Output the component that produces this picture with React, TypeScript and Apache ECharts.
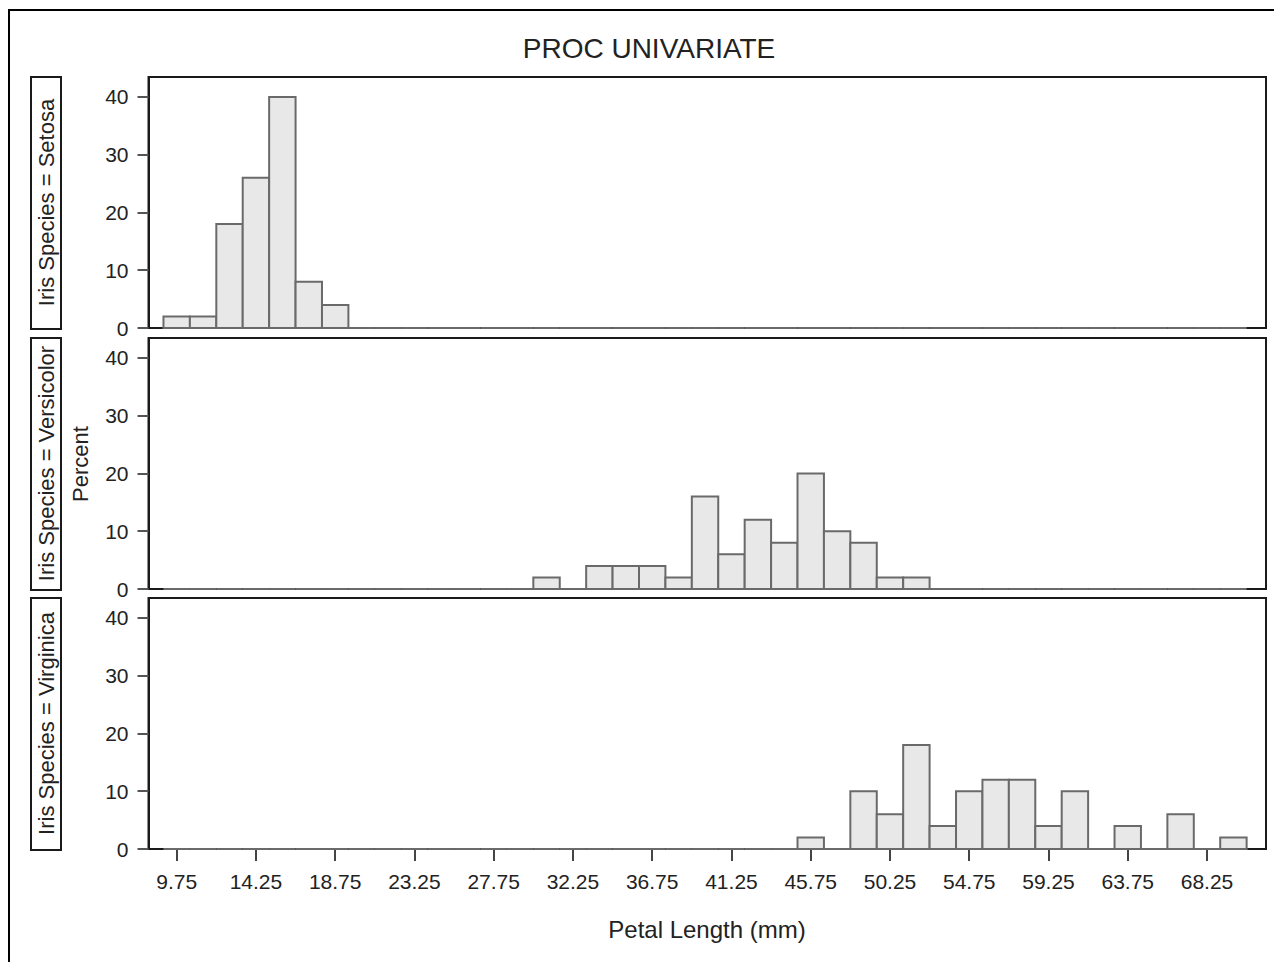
import React, { useEffect, useRef } from "react";
import * as echarts from "echarts";

const binMidpoints = [
  9.75, 11.25, 12.75, 14.25, 15.75, 17.25, 18.75, 20.25, 21.75, 23.25,
  24.75, 26.25, 27.75, 29.25, 30.75, 32.25, 33.75, 35.25, 36.75, 38.25,
  39.75, 41.25, 42.75, 44.25, 45.75, 47.25, 48.75, 50.25, 51.75, 53.25,
  54.75, 56.25, 57.75, 59.25, 60.75, 62.25, 63.75, 65.25, 66.75, 68.25,
  69.75,
];
const BIN_WIDTH = 1.5;

const setosaPct = [
  2, 2, 18, 26, 40, 8, 4, 0, 0, 0,
  0, 0, 0, 0, 0, 0, 0, 0, 0, 0,
  0, 0, 0, 0, 0, 0, 0, 0, 0, 0,
  0, 0, 0, 0, 0, 0, 0, 0, 0, 0,
  0,
];
const versicolorPct = [
  0, 0, 0, 0, 0, 0, 0, 0, 0, 0,
  0, 0, 0, 0, 2, 0, 4, 4, 4, 2,
  16, 6, 12, 8, 20, 10, 8, 2, 2, 0,
  0, 0, 0, 0, 0, 0, 0, 0, 0, 0,
  0,
];
const virginicaPct = [
  0, 0, 0, 0, 0, 0, 0, 0, 0, 0,
  0, 0, 0, 0, 0, 0, 0, 0, 0, 0,
  0, 0, 0, 0, 2, 0, 10, 6, 18, 4,
  10, 12, 12, 4, 10, 0, 4, 0, 6, 0,
  2,
];

const panelLabels = [
  "Iris Species = Setosa",
  "Iris Species = Versicolor",
  "Iris Species = Virginica",
];
const xTickValues = [9.75, 14.25, 18.75, 23.25, 27.75, 32.25, 36.75, 41.25, 45.75, 50.25, 54.75, 59.25, 63.75, 68.25];
const yTickValues = [0, 10, 20, 30, 40];

const titleText = "PROC UNIVARIATE";
const xAxisTitle = "Petal Length (mm)";
const yAxisTitle = "Percent";

const FONT = '"Liberation Sans", Arial, Helvetica, sans-serif';

export default function App() {
  const ref = useRef<HTMLDivElement>(null);

  useEffect(() => {
    document.body.style.margin = "0";
    if (!ref.current) return;
    const chart = echarts.init(ref.current, null, { renderer: "svg" });

    const seriesData = [setosaPct, versicolorPct, virginicaPct];
    const panelTops = [77, 338, 598];
    const panelH = 251;
    const left = 148.5;
    const width = 1117.5;

    const grids = panelTops.map((t) => ({
      left,
      top: t,
      width,
      height: panelH,
      show: true,
      borderColor: "#1a1a1a",
      borderWidth: 2,
      backgroundColor: "transparent",
    }));

    const xAxes = panelTops.map((_, i) => ({
      type: "value",
      gridIndex: i,
      min: 8.15,
      max: 71.6,
      splitLine: { show: false },
      axisLine: { show: true, onZero: false, lineStyle: { color: "#1a1a1a", width: 2 } },
      axisTick: {
        show: i === 2,
        customValues: xTickValues,
        length: 12,
        lineStyle: { color: "#444", width: 2 },
      },
      axisLabel: {
        show: i === 2,
        customValues: xTickValues,
        formatter: (v: number) => v.toFixed(2),
        fontFamily: FONT,
        fontSize: 21,
        color: "#222",
        margin: 22,
      },
    }));

    const yAxes = panelTops.map((_, i) => ({
      type: "value",
      gridIndex: i,
      min: 0,
      max: 43.46,
      splitLine: { show: false },
      axisLine: { show: true, lineStyle: { color: "#1a1a1a", width: 2 } },
      axisTick: {
        show: true,
        customValues: yTickValues,
        length: 11,
        lineStyle: { color: "#555", width: 2 },
      },
      axisLabel: {
        customValues: yTickValues,
        fontFamily: FONT,
        fontSize: 21,
        color: "#222",
        margin: 20,
      },
    }));

    const series = seriesData.map((vals, i) => ({
      type: "custom",
      xAxisIndex: i,
      yAxisIndex: i,
      data: binMidpoints.map((m, k) => [m, vals[k]]),
      renderItem: (params: any, api: any) => {
        const mid = api.value(0);
        const v = api.value(1);
        const p0 = api.coord([mid - BIN_WIDTH / 2, v]);
        const p1 = api.coord([mid + BIN_WIDTH / 2, 0]);
        return {
          type: "rect",
          shape: { x: p0[0], y: p0[1], width: p1[0] - p0[0], height: p1[1] - p0[1] },
          style: { fill: "#e8e8e8", stroke: "#6a6a6a", lineWidth: 2 },
        };
      },
    }));

    const graphics: any[] = [
      {
        type: "rect",
        shape: { x: 9, y: 10, width: 1300, height: 1000 },
        style: { fill: "none", stroke: "#000", lineWidth: 2 },
        silent: true,
      },
      {
        type: "text",
        x: 649,
        y: 48,
        style: {
          text: titleText,
          font: `28px ${FONT}`,
          fill: "#222",
          textAlign: "center",
          textVerticalAlign: "middle",
        },
      },
      {
        type: "text",
        x: 707,
        y: 929,
        style: {
          text: xAxisTitle,
          font: `24px ${FONT}`,
          fill: "#222",
          textAlign: "center",
          textVerticalAlign: "middle",
        },
      },
      {
        type: "text",
        x: 80,
        y: 464,
        rotation: Math.PI / 2,
        style: {
          text: yAxisTitle,
          font: `22px ${FONT}`,
          fill: "#222",
          textAlign: "center",
          textVerticalAlign: "middle",
        },
      },
    ];

    panelTops.forEach((t, i) => {
      graphics.push({
        type: "rect",
        shape: { x: 31, y: t, width: 30, height: panelH + 1 },
        style: { fill: "#fff", stroke: "#1a1a1a", lineWidth: 2 },
      });
      graphics.push({
        type: "text",
        x: 46.5,
        y: t + panelH / 2,
        rotation: Math.PI / 2,
        style: {
          text: panelLabels[i],
          font: `22px ${FONT}`,
          fill: "#222",
          textAlign: "center",
          textVerticalAlign: "middle",
        },
      });
    });

    chart.setOption({
      animation: false,
      backgroundColor: "#fff",
      grid: grids,
      xAxis: xAxes,
      yAxis: yAxes,
      series,
      graphic: graphics,
    });

    return () => {
      chart.dispose();
    };
  }, []);

  return <div ref={ref} style={{ width: 1274, height: 962 }} />;
}
